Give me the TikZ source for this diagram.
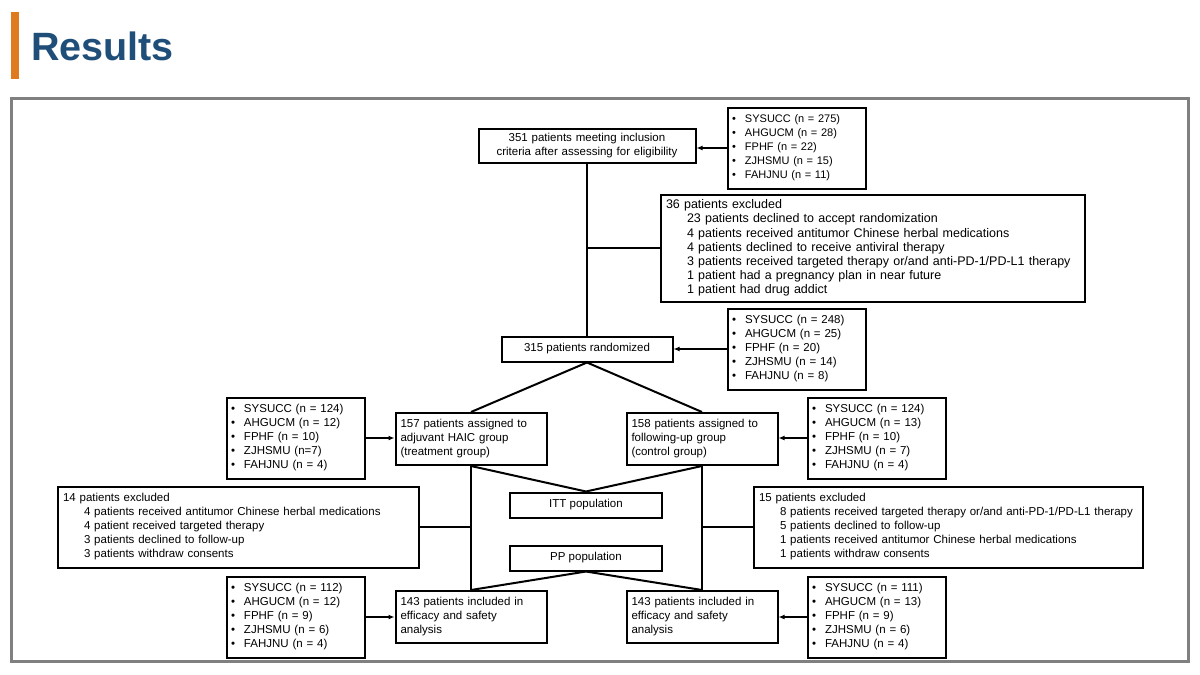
\documentclass[tikz,border=0pt]{standalone}
\usepackage{fontspec}
\setmainfont{Liberation Sans}
\usetikzlibrary{arrows.meta}
\definecolor{titleblue}{RGB}{31,78,121}
\definecolor{barorange}{RGB}{224,122,31}
\definecolor{framegray}{RGB}{128,128,128}
\newcommand\siteitem{\makebox[13pt][l]{•}}
\newcommand\reasonitem{\hspace*{21pt}}
\begin{document}
\begin{tikzpicture}[x=1pt, y=-1pt,
        every node/.style={font=\fontsize{11.5}{14}\selectfont},
        box/.style={draw, line width=2pt, inner ysep=0pt},
        sites/.style={box, text width=130pt, inner xsep=4pt, minimum height=81pt, align=left},
        excl/.style={box, inner xsep=5pt, align=left},
        group/.style={box, text width=141pt, inner xsep=5pt, minimum height=52pt, align=left},
        pop/.style={box, minimum width=152pt, minimum height=25pt, align=center},
        link/.style={line width=2pt},
        arr/.style={link, -{Latex[length=6pt,width=5pt]}}]
        \useasboundingbox (0,0) rectangle (1200,675);
        \fill[barorange] (11,12) rectangle (19,79);
        \node[anchor=base west, inner sep=0pt, text=titleblue, font=\fontsize{39.5}{44}\selectfont\bfseries] (title) at (31,60) {Results};
        \draw[framegray, line width=3pt] (11.5,98.5) rectangle (1188.5,661.5);

        \node[box, text width=209pt, inner xsep=4pt, minimum height=34pt, align=center] (elig) at (587,146) {351 patients meeting inclusion\\criteria after assessing for eligibility};
        \node[sites, font=\fontsize{11}{14}\selectfont] (site1) at (797,148) {\siteitem SYSUCC (n = 275)\\\siteitem AHGUCM (n = 28)\\\siteitem FPHF (n = 22)\\\siteitem ZJHSMU (n = 15)\\\siteitem FAHJNU (n = 11)};
        \node[excl, text width=414pt, minimum height=107pt, font=\fontsize{12.5}{14.2}\selectfont] (excl) at (873,248) {36 patients excluded\\\reasonitem 23 patients declined to accept randomization\\\reasonitem 4 patients received antitumor Chinese herbal medications\\\reasonitem 4 patients declined to receive antiviral therapy\\\reasonitem 3 patients received targeted therapy or/and anti-PD-1/PD-L1 therapy\\\reasonitem 1 patient had a pregnancy plan in near future\\\reasonitem 1 patient had drug addict};
        \node[box, minimum width=171pt, minimum height=25pt] (rand) at (587,349) {315 patients randomized};
        \node[sites] (site2) at (797,349) {\siteitem SYSUCC (n = 248)\\\siteitem AHGUCM (n = 25)\\\siteitem FPHF (n = 20)\\\siteitem ZJHSMU (n = 14)\\\siteitem FAHJNU (n = 8)};

        \node[group] (haic) at (471,439) {157 patients assigned to\\adjuvant HAIC group\\(treatment group)};
        \node[group] (ctrl) at (702,439) {158 patients assigned to\\following-up group\\(control group)};
        \node[sites] (lsite) at (296,438) {\siteitem SYSUCC (n = 124)\\\siteitem AHGUCM (n = 12)\\\siteitem FPHF (n = 10)\\\siteitem ZJHSMU (n=7)\\\siteitem FAHJNU (n = 4)};
        \node[sites] (rsite) at (877,438) {\siteitem SYSUCC (n = 124)\\\siteitem AHGUCM (n = 13)\\\siteitem FPHF (n = 10)\\\siteitem ZJHSMU (n = 7)\\\siteitem FAHJNU (n = 4)};

        \node[pop] (itt) at (586,505) {ITT population};
        \node[pop] (pp) at (586,558) {PP population};
        \node[excl, text width=351pt, minimum height=81pt] (lexcl) at (238.5,527) {14 patients excluded\\\reasonitem 4 patients received antitumor Chinese herbal medications\\\reasonitem 4 patient received targeted therapy\\\reasonitem 3 patients declined to follow-up\\\reasonitem 3 patients withdraw consents};
        \node[excl, text width=379pt, minimum height=81pt] (rexcl) at (948.5,527) {15 patients excluded\\\reasonitem 8 patients received targeted therapy or/and anti-PD-1/PD-L1 therapy\\\reasonitem 5 patients declined to follow-up\\\reasonitem 1 patients received antitumor Chinese herbal medications\\\reasonitem 1 patients withdraw consents};

        \node[group] (lana) at (471,617) {143 patients included in\\efficacy and safety\\analysis};
        \node[group] (rana) at (702,617) {143 patients included in\\efficacy and safety\\analysis};
        \node[sites] (lsite2) at (296,617) {\siteitem SYSUCC (n = 112)\\\siteitem AHGUCM (n = 12)\\\siteitem FPHF (n = 9)\\\siteitem ZJHSMU (n = 6)\\\siteitem FAHJNU (n = 4)};
        \node[sites] (rsite2) at (877,617) {\siteitem SYSUCC (n = 111)\\\siteitem AHGUCM (n = 13)\\\siteitem FPHF (n = 9)\\\siteitem ZJHSMU (n = 6)\\\siteitem FAHJNU (n = 4)};

        \draw[arr] (site1.west) -- (elig.east |- site1.west);
        \draw[link] (elig.south) -- (rand.north);
        \draw[link] (excl.west) -- (excl.west -| elig.south);
        \draw[arr] (site2.west) -- (rand.east |- site2.west);
        \draw[link] (rand.south) -- (haic.north);
        \draw[link] (rand.south) -- (ctrl.north);
        \draw[arr] (lsite.east) -- (haic.west |- lsite.east);
        \draw[arr] (rsite.west) -- (ctrl.east |- rsite.west);
        \draw[link] (haic.south) -- (itt.north);
        \draw[link] (ctrl.south) -- (itt.north);
        \draw[link] (haic.south) -- (lana.north);
        \draw[link] (ctrl.south) -- (rana.north);
        \draw[link] (lexcl.east) -- (lexcl.east -| haic.south);
        \draw[link] (rexcl.west) -- (rexcl.west -| ctrl.south);
        \draw[link] (pp.south) -- (lana.north);
        \draw[link] (pp.south) -- (rana.north);
        \draw[arr] (lsite2.east) -- (lana.west |- lsite2.east);
        \draw[arr] (rsite2.west) -- (rana.east |- rsite2.west);
\end{tikzpicture}
\end{document}
